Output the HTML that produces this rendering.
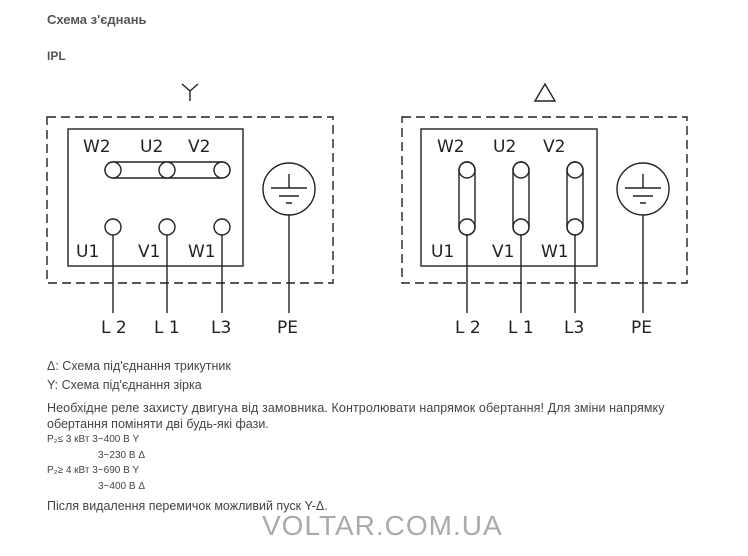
<!DOCTYPE html>
<html><head><meta charset="utf-8"><style>
body{margin:0;width:748px;height:556px;background:#fff;position:relative;font-family:"Liberation Sans",sans-serif;color:#444;overflow:hidden}
.t{position:absolute;white-space:nowrap;font-size:12px}
</style></head><body>
<div class="t" style="left:47px;top:12px;font-size:13px;font-weight:bold;color:#555">Схема з'єднань</div>
<div class="t" style="left:47px;top:49px;font-size:12px;font-weight:bold;color:#555">IPL</div>
<svg width="748" height="350" style="position:absolute;left:0;top:0" font-family="DejaVu Sans, sans-serif" font-size="17" fill="#222">
<g stroke="#222" stroke-width="1.4" fill="none">
<path d="M182,84 L190,91 L198,84 M190,91 V101"/>
<rect x="47" y="117" width="286" height="166" stroke-dasharray="9,5"/>
<rect x="68" y="129" width="175" height="137"/>
<rect x="105" y="162" width="125" height="16" rx="8"/>
<circle cx="113" cy="170" r="8" fill="#fff"/><circle cx="167" cy="170" r="8" fill="#fff"/><circle cx="222" cy="170" r="8" fill="#fff"/>
<circle cx="113" cy="227" r="8"/><circle cx="167" cy="227" r="8"/><circle cx="222" cy="227" r="8"/>
<path d="M113,235 V313 M167,235 V313 M222,235 V313 M289,215 V313"/>
<circle cx="289" cy="189" r="26"/>
<path d="M289,174 V188 M271,188 H307 M279,196 H299 M286,203 H292"/>
<path d="M535,101 L545,84 L555,101 Z"/>
<rect x="402" y="117" width="285" height="166" stroke-dasharray="9,5"/>
<rect x="421" y="129" width="176" height="137"/>
<rect x="459" y="162" width="16" height="73" rx="8"/>
<rect x="513" y="162" width="16" height="73" rx="8"/>
<rect x="567" y="162" width="16" height="73" rx="8"/>
<circle cx="467" cy="170" r="8"/><circle cx="521" cy="170" r="8"/><circle cx="575" cy="170" r="8"/>
<circle cx="467" cy="227" r="8"/><circle cx="521" cy="227" r="8"/><circle cx="575" cy="227" r="8"/>
<path d="M467,235 V313 M521,235 V313 M575,235 V313 M643,215 V313"/>
<circle cx="643" cy="189" r="26"/>
<path d="M643,174 V188 M625,188 H661 M633,196 H653 M640,203 H646"/>
</g>
<g stroke="none">
<text x="83" y="152">W2</text><text x="140" y="152">U2</text><text x="188" y="152">V2</text>
<text x="76" y="257">U1</text><text x="138" y="257">V1</text><text x="188" y="257">W1</text>
<text x="101" y="333">L 2</text><text x="154" y="333">L 1</text><text x="211" y="333">L3</text><text x="277" y="333">PE</text>
<text x="437" y="152">W2</text><text x="493" y="152">U2</text><text x="543" y="152">V2</text>
<text x="431" y="257">U1</text><text x="492" y="257">V1</text><text x="541" y="257">W1</text>
<text x="455" y="333">L 2</text><text x="508" y="333">L 1</text><text x="564" y="333">L3</text><text x="631" y="333">PE</text>
</g>
</svg>
<div class="t" style="left:47px;top:359px;font-size:12.5px">Δ: Схема під'єднання трикутник</div>
<div class="t" style="left:47px;top:378px;font-size:12.5px">Y: Схема під'єднання зірка</div>
<div class="t" style="left:47px;top:401px;font-size:12.5px;letter-spacing:0.1px">Необхідне реле захисту двигуна від замовника. Контролювати напрямок обертання! Для зміни напрямку</div>
<div class="t" style="left:47px;top:417px;font-size:12.5px">обертання поміняти дві будь-які фази.</div>
<div class="t" style="left:47px;top:434px;font-size:10px">P₂≤ 3 кВт 3~400 В Y</div>
<div class="t" style="left:98px;top:450px;font-size:10px">3~230 В Δ</div>
<div class="t" style="left:47px;top:465px;font-size:10px">P₂≥ 4 кВт 3~690 В Y</div>
<div class="t" style="left:98px;top:481px;font-size:10px">3~400 В Δ</div>
<div class="t" style="left:47px;top:499px;font-size:12.5px">Після видалення перемичок можливий пуск Y-Δ.</div>
<div class="t" style="left:262px;top:510px;font-size:28px;color:#aaa;letter-spacing:1px">VOLTAR.COM.UA</div>
</body></html>
